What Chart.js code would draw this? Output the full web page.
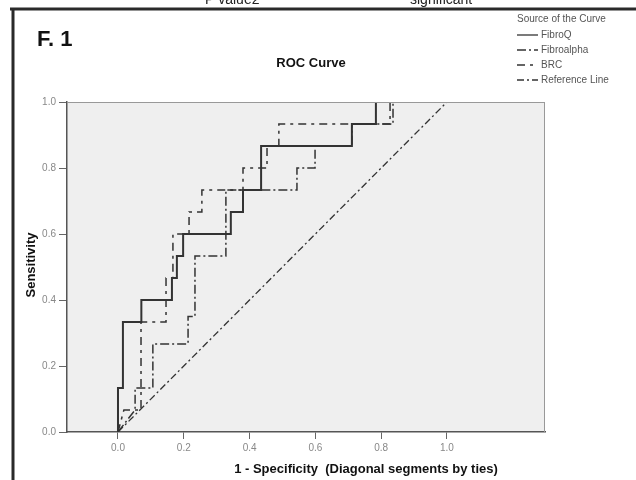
<!DOCTYPE html>
<html>
<head>
<meta charset="utf-8">
<script src="https://cdn.jsdelivr.net/npm/chart.js@4.4.0/dist/chart.umd.min.js"></script>
<style>
  html, body { margin: 0; padding: 0; background: #fff; }
  #wrap { width: 636px; height: 480px; }
</style>
</head>
<body>
<div id="wrap"><canvas id="roc" width="636" height="480"></canvas></div>
<script>
// tick labels
const xTicks = [0, 0.2, 0.4, 0.6, 0.8, 1.0];
const yTicks = [0, 0.2, 0.4, 0.6, 0.8, 1.0];

// curve points (1 - specificity, sensitivity)
const fibroqX = [0, 0, 0.015, 0.015, 0.071, 0.071, 0.164, 0.164, 0.179, 0.179, 0.198, 0.198, 0.343, 0.343, 0.380, 0.380, 0.435, 0.435, 0.711, 0.711, 0.784, 0.784, 1.0];
const fibroqY = [0, 0.133, 0.133, 0.333, 0.333, 0.4, 0.4, 0.467, 0.467, 0.533, 0.533, 0.6, 0.6, 0.667, 0.667, 0.733, 0.733, 0.867, 0.867, 0.933, 0.933, 1.0, 1.0];

const fibroalphaX = [0, 0.052, 0.052, 0.106, 0.106, 0.213, 0.213, 0.234, 0.234, 0.328, 0.328, 0.544, 0.544, 0.599, 0.599, 0.711, 0.711, 0.836, 0.836, 1.0];
const fibroalphaY = [0, 0.067, 0.133, 0.133, 0.267, 0.267, 0.35, 0.35, 0.533, 0.533, 0.733, 0.733, 0.8, 0.8, 0.867, 0.867, 0.933, 0.933, 1.0, 1.0];

const brcX = [0, 0.018, 0.070, 0.070, 0.146, 0.146, 0.167, 0.167, 0.216, 0.216, 0.255, 0.255, 0.380, 0.380, 0.453, 0.453, 0.489, 0.489, 0.827, 0.827, 1.0];
const brcY = [0, 0.067, 0.067, 0.333, 0.333, 0.467, 0.467, 0.6, 0.6, 0.667, 0.667, 0.733, 0.733, 0.8, 0.8, 0.867, 0.867, 0.933, 0.933, 1.0, 1.0];

const refX = [0, 1];
const refY = [0, 1];

const pts = (xs, ys) => xs.map((x, i) => ({ x: x, y: ys[i] }));

const FONT = '"Liberation Sans", Arial, sans-serif';
const INK = '#333';

const curves = [
  { label: 'FibroQ', x: fibroqX, y: fibroqY, dash: [], width: 2 },
  { label: 'Fibroalpha', x: fibroalphaX, y: fibroalphaY, dash: [9, 3, 2, 3], width: 1.5 },
  { label: 'BRC', x: brcX, y: brcY, dash: [8, 5, 3, 5], width: 1.5 },
  { label: 'Reference Line', x: refX, y: refY, dash: [7, 3, 2, 3], width: 1.3 }
];

// frame, titles and legend in the SPSS style
const decor = {
  id: 'decor',
  beforeDraw(chart) {
    const { ctx, chartArea: a } = chart;
    ctx.save();
    ctx.fillStyle = '#fff';
    ctx.fillRect(0, 0, chart.width, chart.height);
    ctx.fillStyle = '#efefef';
    ctx.fillRect(a.left, a.top, a.right - a.left, a.bottom - a.top);
    // outer figure frame
    ctx.strokeStyle = '#2a2a2a';
    ctx.lineWidth = 3;
    ctx.beginPath();
    ctx.moveTo(10, 9); ctx.lineTo(636, 9);
    ctx.moveTo(13, 9); ctx.lineTo(13, 480);
    ctx.stroke();
    // cut-off text above the frame
    ctx.fillStyle = '#222';
    ctx.font = '14px ' + FONT;
    ctx.textBaseline = 'alphabetic';
    ctx.fillText('P value2', 205, 4);
    ctx.fillText('significant', 410, 4);
    ctx.restore();
  },
  afterDraw(chart) {
    const { ctx, chartArea: a } = chart;
    ctx.save();
    ctx.strokeStyle = '#999';
    ctx.lineWidth = 1;
    ctx.beginPath();
    ctx.moveTo(a.left, a.top + 0.5); ctx.lineTo(a.right, a.top + 0.5);
    ctx.moveTo(a.right - 0.5, a.top); ctx.lineTo(a.right - 0.5, a.bottom);
    ctx.stroke();

    ctx.fillStyle = '#111';
    ctx.textBaseline = 'middle';
    ctx.font = 'bold 22px ' + FONT;
    ctx.textAlign = 'left';
    ctx.fillText('F. 1', 37, 40);
    ctx.font = 'bold 13px ' + FONT;
    ctx.textAlign = 'center';
    ctx.fillText('ROC Curve', 311, 63);
    ctx.fillText('1 - Specificity  (Diagonal segments by ties)', 366, 469);
    ctx.save();
    ctx.translate(31, 265);
    ctx.rotate(-Math.PI / 2);
    ctx.font = 'bold 13px ' + FONT;
    ctx.fillText('Sensitivity', 0, 0);
    ctx.restore();

    // legend
    ctx.textAlign = 'left';
    ctx.font = '10px ' + FONT;
    ctx.fillStyle = '#555';
    ctx.fillText('Source of the Curve', 517, 19);
    curves.forEach((c, i) => {
      const y = 35 + i * 15;
      ctx.strokeStyle = INK;
      ctx.lineWidth = 1.3;
      ctx.setLineDash(c.dash);
      ctx.beginPath();
      ctx.moveTo(517, y); ctx.lineTo(538, y);
      ctx.stroke();
      ctx.setLineDash([]);
      ctx.fillText(c.label, 541, y);
    });
    ctx.restore();
  }
};

new Chart(document.getElementById('roc'), {
  type: 'scatter',
  data: {
    datasets: curves.map(c => ({
      label: c.label,
      data: pts(c.x, c.y),
      showLine: true,
      borderColor: INK,
      borderWidth: c.width,
      borderDash: c.dash,
      pointRadius: 0,
      fill: false,
      tension: 0
    }))
  },
  options: {
    responsive: false,
    animation: false,
    layout: { padding: { left: 0, top: 102, right: 91, bottom: 0 } },
    plugins: {
      legend: { display: false },
      tooltip: { enabled: false },
      title: { display: false }
    },
    scales: {
      x: {
        type: 'linear',
        min: -0.155,
        max: 1.298,
        afterFit: s => { s.height = 48; },
        afterBuildTicks: s => { s.ticks = xTicks.map(v => ({ value: v })); },
        border: { display: true, color: '#555', width: 1.5 },
        grid: { drawOnChartArea: false, drawTicks: true, tickLength: 7, color: '#666' },
        ticks: {
          padding: 3,
          color: '#888',
          font: { size: 10, family: FONT },
          callback: v => v.toFixed(1)
        }
      },
      y: {
        type: 'linear',
        min: 0,
        max: 1,
        afterFit: s => { s.width = 67; },
        afterBuildTicks: s => { s.ticks = yTicks.map(v => ({ value: v })); },
        border: { display: true, color: '#555', width: 1.5 },
        grid: { drawOnChartArea: false, drawTicks: true, tickLength: 8, color: '#666' },
        ticks: {
          padding: 3,
          color: '#888',
          font: { size: 10, family: FONT },
          callback: v => v.toFixed(1)
        }
      }
    }
  },
  plugins: [decor]
});
</script>
</body>
</html>
